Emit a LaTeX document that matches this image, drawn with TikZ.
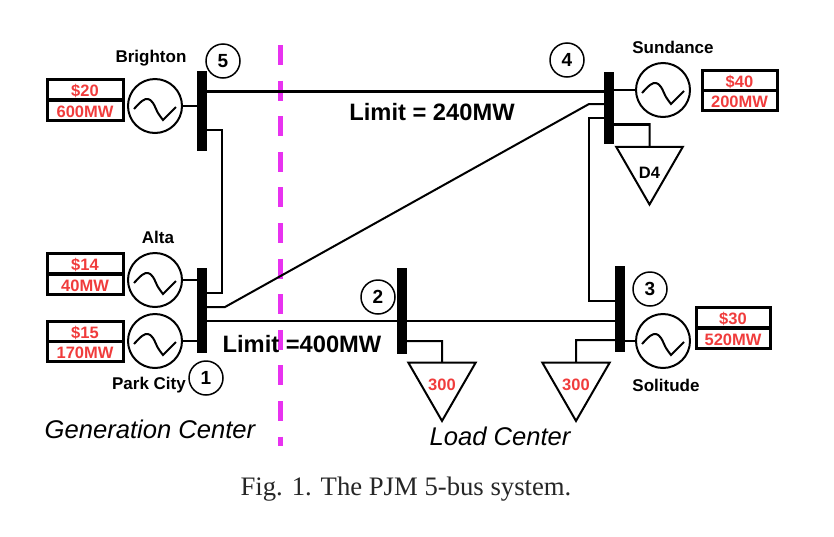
\documentclass[tikz,border=0pt]{standalone}
\usepackage{fontspec}
\setmainfont{Liberation Sans}
\newfontfamily\captionfont{Liberation Serif}
\usetikzlibrary{shapes.geometric}
\definecolor{bidred}{RGB}{240,60,60}
\definecolor{cutpink}{RGB}{232,50,240}

\begin{document}
\begin{tikzpicture}[x=1pt, y=-1pt,
        % styles
        bus/.style = {
                rectangle, fill=black, inner sep=0pt, outer sep=0pt, minimum width=10pt
            },
        gen/.style = {
                circle, draw=black, line width=2pt, fill=white, inner sep=0pt, minimum size=54pt,
                path picture={
                        \draw [line width=2pt, shift={(path picture bounding box.center)}]
                        plot [smooth, tension=.6] coordinates {(-21,3) (-13,-5) (-7,-7) (-2,-3) (3,7) (8,14)}
                        -- (21,1);
                    }
            },
        bid/.style = {
                rectangle, draw=black, line width=3pt, text=bidred, font=\bfseries\fontsize{16.5}{16.5}\selectfont,
                inner sep=0pt, outer sep=0pt, minimum height=20pt, text height=15pt, text depth=0pt
            },
        load/.style = {
                regular polygon, regular polygon sides=3, shape border rotate=180,
                draw=black, line width=2pt, inner sep=0pt, outer sep=0pt, minimum size=77pt,
                font=\bfseries\fontsize{16.5}{16.5}\selectfont, text height=16pt, text depth=0pt
            },
        busno/.style = {
                circle, draw=black, line width=1.5pt, fill=white, inner sep=0pt, minimum size=34pt,
                font=\bfseries\fontsize{19}{19}\selectfont
            },
        site/.style = {
                font=\bfseries\fontsize{17}{17}\selectfont
            },
        limit/.style = {
                font=\bfseries\fontsize{23.7}{23.7}\selectfont
            },
        area/.style = {
                font=\itshape\fontsize{25.6}{25.6}\selectfont
            },
        line/.style = {
                line width=2pt
            },
        heavyline/.style = {
                line width=3pt
            }]

    \useasboundingbox (0,0) rectangle (834,536);

    % cut line
    \coordinate (cuttop) at (280.5,45);
    \coordinate (cutbottom) at (280.5,446);
    \draw [cutpink, line width=5pt, dash pattern=on 20pt off 15.6pt] (cuttop) -- (cutbottom);

    % buses
    \node (bus5) [bus, minimum height=80pt] at (202,111) {};
    \node (bus4) [bus, minimum height=72pt] at (609,108) {};
    \node (bus1) [bus, minimum height=85pt] at (202,310.5) {};
    \node (bus2) [bus, minimum height=86pt] at (402,311) {};
    \node (bus3) [bus, minimum height=86pt] at (620,309) {};

    % generators
    \node (gen5) [gen] at (155,106) {};
    \node (gen4) [gen] at (663,90) {};
    \node (gen1a) [gen] at (155,280) {};
    \node (gen1b) [gen] at (155,341) {};
    \node (gen3) [gen] at (663,341) {};

    % bids
    \node (price5) [bid, minimum width=76pt] at (85,89) {\$20};
    \node (mw5) [bid, minimum width=76pt] at (85,110) {600MW};
    \node (price1a) [bid, minimum width=76pt] at (85,263) {\$14};
    \node (mw1a) [bid, minimum width=76pt] at (85,284) {40MW};
    \node (price1b) [bid, minimum width=76pt] at (85,331) {\$15};
    \node (mw1b) [bid, minimum width=76pt] at (85,351) {170MW};
    \node (price4) [bid, minimum width=75pt] at (739.5,80) {\$40};
    \node (mw4) [bid, minimum width=75pt] at (739.5,100) {200MW};
    \node (price3) [bid, minimum width=74pt] at (733,317) {\$30};
    \node (mw3) [bid, minimum width=74pt] at (733,338) {520MW};

    % loads
    \node (loadD4) [load, text height=24pt] at (649.5,166) {D4};
    \node (load2) [load, text=bidred] at (442,382) {300};
    \node (load3) [load, text=bidred] at (576,382) {300};

    % bus numbers
    \node (no5) [busno] at (223,61) {5};
    \node (no4) [busno] at (567,60) {4};
    \node (no1) [busno] at (206,378) {1};
    \node (no2) [busno] at (378,297) {2};
    \node (no3) [busno] at (650,289) {3};

    % names
    \node (brighton) [site] at (151,58) {Brighton};
    \node (sundance) [site] at (673,47) {Sundance};
    \node (alta) [site] at (158,237) {Alta};
    \node (parkcity) [site] at (149,385) {Park City};
    \node (solitude) [site] at (666,385) {Solitude};

    % texts
    \node (limit54) [limit] at (432,112) {Limit = 240MW};
    \node (limit12) [limit] at (302,344) {Limit =400MW};
    \node (gencenter) [area] at (150,429) {Generation Center};
    \node (loadcenter) [area] at (500,436) {Load Center};
    \node (fig) [font=\captionfont\fontsize{26.7}{26.7}\selectfont, text=black!85] at (406,489) {Fig. 1. The PJM 5-bus system.};

    % helper points
    \coordinate (bend54) at (222,130);
    \coordinate (bend51) at (222,293);
    \coordinate (bend41) at (589,104);
    \coordinate (bend14) at (225,307);
    \coordinate (bend43) at (589,118);
    \coordinate (bend34) at (589,301);
    \coordinate (bendD4) at (649.5,124);
    \coordinate (bend2) at (442,341);
    \coordinate (bend3) at (576,340);

    % lines
    \draw [heavyline] (bus5.east |- 0,91) -- (bus4.west |- 0,91);
    \draw [line] (bus5.east |- bend54) -- (bend54) -- (bend51) -- (bus1.east |- bend51);
    \draw [line] (bus1.east |- bend14) -- (bend14) -- (bend41) -- (bus4.west |- bend41);
    \draw [line] (bus4.west |- bend43) -- (bend43) -- (bend34) -- (bus3.west |- bend34);
    \draw [line] (bus1.east |- 0,320.5) -- (bus2.west |- 0,320.5);
    \draw [line] (bus2.east |- 0,320.5) -- (bus3.west |- 0,320.5);
    \draw [line] (gen5) -- (bus5.west |- gen5);
    \draw [line] (gen1a) -- (bus1.west |- gen1a);
    \draw [line] (gen1b) -- (bus1.west |- gen1b);
    \draw [line] (gen4) -- (bus4.east |- gen4);
    \draw [line] (gen3) -- (bus3.east |- gen3);
    \draw [line] (bus4.east |- bendD4) -- (bendD4) -- (loadD4.north);
    \draw [heavyline] (bus4.east |- bendD4) -- (bendD4);
    \draw [line] (bus2.east |- bend2) -- (bend2) -- (load2.north);
    \draw [line] (bus3.west |- bend3) -- (bend3) -- (load3.north);

\end{tikzpicture}
\end{document}
